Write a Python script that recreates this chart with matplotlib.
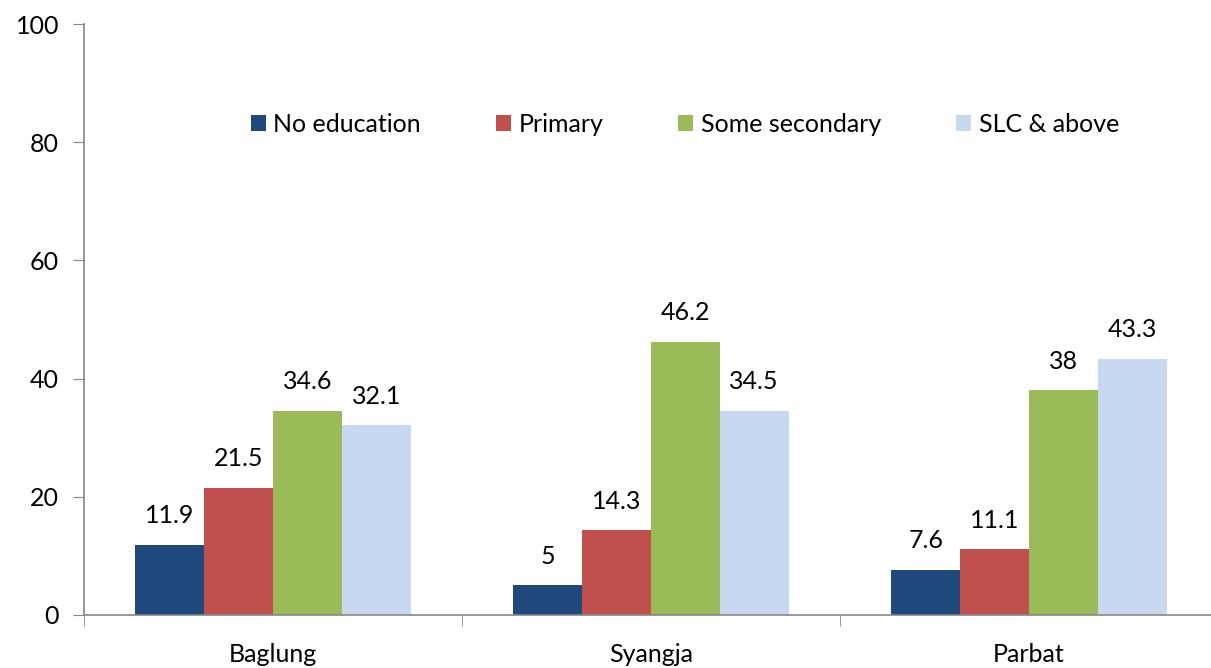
import numpy as np
import matplotlib.pyplot as plt

districts = ['Baglung', 'Syangja', 'Parbat']
levels = ['No education', 'Primary', 'Some secondary', 'SLC & above']
no_education = [11.9, 5, 7.6]
primary = [21.5, 14.3, 11.1]
some_secondary = [34.6, 46.2, 38]
slc_above = [32.1, 34.5, 43.3]

series = [no_education, primary, some_secondary, slc_above]
colors = ['#1F497D', '#C0504D', '#9BBB59', '#C6D9F1']

plt.rcParams['font.family'] = ['Lato', 'DejaVu Sans']

fig = plt.figure(figsize=(12.11, 6.68), dpi=100)
ax = fig.add_axes([84 / 1211, 53 / 668, 1134 / 1211, 591 / 668])

x = np.arange(len(districts))
w = 0.182
for i, (vals, c) in enumerate(zip(series, colors)):
    pos = x + (i - 1.5) * w
    ax.bar(pos, vals, width=w, color=c, label=levels[i])
    for p, v in zip(pos, vals):
        ax.text(p, v + 3.0, f'{v:g}', ha='center', va='bottom', fontsize=18)

ax.set_xlim(-0.5, 2.5)
ax.set_ylim(0, 100)
ax.set_yticks(range(0, 101, 20))
ax.set_xticks(x)
ax.set_xticklabels(districts)
ax.set_xticks([-0.5, 0.5, 1.5, 2.5], minor=True)
ax.tick_params(axis='x', which='major', length=0, labelsize=18, pad=20)
ax.tick_params(axis='x', which='minor', length=8, color='#868686', direction='out')
ax.tick_params(axis='y', length=8, color='#868686', labelsize=18, pad=10)

for s in ['top', 'right']:
    ax.spines[s].set_visible(False)
for s in ['left', 'bottom']:
    ax.spines[s].set_color('#868686')
    ax.spines[s].set_linewidth(1.2)

ax.legend(ncol=4, frameon=False, loc='center', bbox_to_anchor=(0.53, 0.83),
          fontsize=18, handlelength=0.6, handleheight=0.6, handletextpad=0.3,
          columnspacing=3.0)

fig.savefig('out.png', dpi=100)
